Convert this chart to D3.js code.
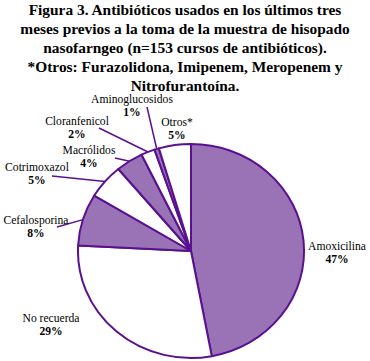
<!DOCTYPE html>
<html>
<head>
<meta charset="utf-8">
<script src="https://cdn.jsdelivr.net/npm/d3@7"></script>
<style>
  body { margin: 0; background: #fff; }
  svg { display: block; }
  svg text { font-family: "Liberation Serif", "Times New Roman", serif; }
</style>
</head>
<body>
<div id="chart"></div>
<script>
// Antibióticos usados (n = 153 cursos)
const categories = ["Amoxicilina", "No recuerda", "Cefalosporina", "Cotrimoxazol",
  "Macrólidos", "Cloranfenicol", "Aminoglucosidos", "Otros*"];
const counts = [72, 44, 12, 8, 6, 3, 1, 7];
const titleLines = [
  "Figura 3. Antibióticos usados en los últimos tres",
  "meses previos a la toma de la muestra de hisopado",
  "nasofarngeo (n=153 cursos de antibióticos).",
  "*Otros: Furazolidona, Imipenem, Meropenem y",
  "Nitrofurantoína."
];

const width = 370, height = 361;
const purple = "#9a72b6", stroke = "#5a1190";
const cx = 191, cy = 251, rx = 113, ry = 107;

// label placement (text centre, baseline) and optional leader start
const labelPos = [
  { x: 337, y: 250 },
  { x: 51, y: 322 },
  { x: 36, y: 224, lx: 57, ly: 227 },
  { x: 37, y: 171, lx: 52, ly: 176 },
  { x: 89, y: 154, lx: 115, ly: 158 },
  { x: 77, y: 125, lx: 99, ly: 128 },
  { x: 132, y: 103, lx: 147, ly: 107 },
  { x: 177, y: 126 }
];

const total = d3.sum(counts);
const data = categories.map((c, i) => ({ name: c, value: counts[i], pos: labelPos[i] }));

const svg = d3.select("#chart").append("svg")
  .attr("width", width)
  .attr("height", height);

// Title
svg.append("g")
  .selectAll("text")
  .data(titleLines)
  .join("text")
  .attr("x", width / 2)
  .attr("y", (d, i) => 14.5 + i * 19)
  .attr("text-anchor", "middle")
  .style("font-size", "15.4px")
  .style("font-weight", "bold")
  .text(d => d);

const pie = d3.pie().sort(null).value(d => d.value);
const arcs = pie(data);
const arc = d3.arc().innerRadius(0).outerRadius(1);

// slices drawn on unit circle, stretched into ellipse
svg.append("g")
  .attr("transform", `translate(${cx},${cy}) scale(${rx},${ry})`)
  .selectAll("path")
  .data(arcs)
  .join("path")
  .attr("d", arc)
  .attr("fill", (d, i) => i % 2 === 0 ? purple : "#fff")
  .attr("stroke", stroke)
  .attr("stroke-width", 2)
  .attr("stroke-linejoin", "round")
  .attr("vector-effect", "non-scaling-stroke");

// leader lines to the slice edge
const edge = d => {
  const a = (d.startAngle + d.endAngle) / 2;
  return [cx + rx * Math.sin(a), cy - ry * Math.cos(a)];
};
svg.append("g")
  .selectAll("line")
  .data(arcs.filter(d => d.data.pos.lx != null))
  .join("line")
  .attr("x1", d => d.data.pos.lx)
  .attr("y1", d => d.data.pos.ly)
  .attr("x2", d => edge(d)[0])
  .attr("y2", d => edge(d)[1])
  .attr("stroke", stroke)
  .attr("stroke-width", 1.5);

const pct = v => Math.round(v / total * 100) + "%";
const labels = svg.append("g")
  .selectAll("text")
  .data(arcs)
  .join("text")
  .attr("x", d => d.data.pos.x)
  .attr("y", d => d.data.pos.y)
  .attr("text-anchor", "middle")
  .style("font-size", "11.6px");
labels.append("tspan")
  .text(d => d.data.name);
labels.append("tspan")
  .attr("x", d => d.data.pos.x)
  .attr("dy", 13)
  .style("font-weight", "bold")
  .text(d => pct(d.data.value));
</script>
</body>
</html>
